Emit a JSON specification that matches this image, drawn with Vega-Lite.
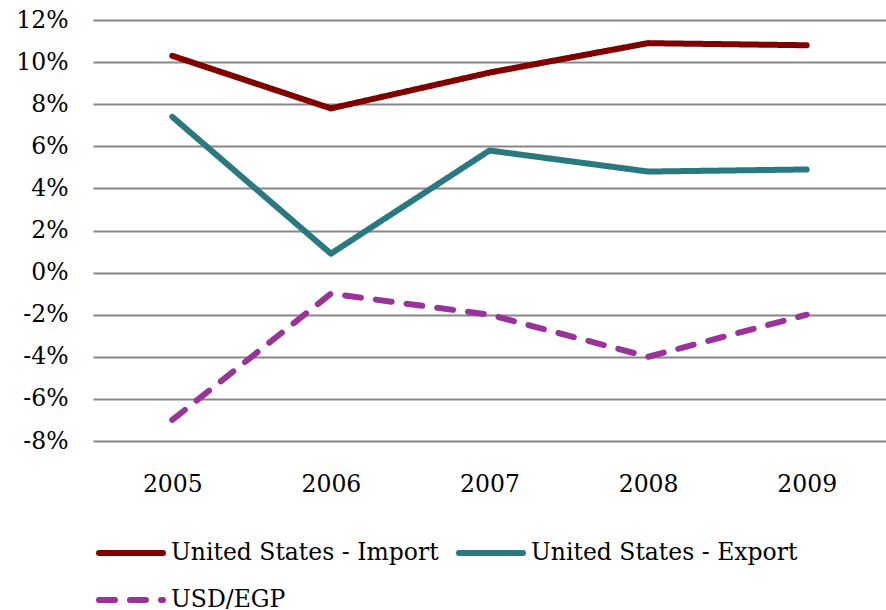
{
  "$schema": "https://vega.github.io/schema/vega-lite/v6.json",
  "width": 793,
  "height": 421,
  "padding": {"left": 93, "top": 20, "right": 0, "bottom": 169},
  "autosize": {"type": "none"},
  "background": "white",
  "config": {
    "view": {"stroke": null},
    "font": "DejaVu Serif",
    "axis": {"labelFont": "DejaVu Serif", "labelFontSize": 23.5, "labelColor": "#000000"},
    "legend": {"labelFont": "DejaVu Serif", "labelFontSize": 23.5, "labelColor": "#000000"}
  },
  "data": {
    "values": [
      {"year": "2005", "series": "United States - Import", "value": 10.3},
      {"year": "2006", "series": "United States - Import", "value": 7.8},
      {"year": "2007", "series": "United States - Import", "value": 9.5},
      {"year": "2008", "series": "United States - Import", "value": 10.9},
      {"year": "2009", "series": "United States - Import", "value": 10.8},
      {"year": "2005", "series": "United States - Export", "value": 7.4},
      {"year": "2006", "series": "United States - Export", "value": 0.9},
      {"year": "2007", "series": "United States - Export", "value": 5.8},
      {"year": "2008", "series": "United States - Export", "value": 4.8},
      {"year": "2009", "series": "United States - Export", "value": 4.9},
      {"year": "2005", "series": "USD/EGP", "value": -7.0},
      {"year": "2006", "series": "USD/EGP", "value": -1.0},
      {"year": "2007", "series": "USD/EGP", "value": -2.0},
      {"year": "2008", "series": "USD/EGP", "value": -4.0},
      {"year": "2009", "series": "USD/EGP", "value": -2.0}
    ]
  },
  "mark": {"type": "line", "strokeWidth": 6, "strokeCap": "round", "strokeJoin": "round"},
  "encoding": {
    "x": {
      "field": "year",
      "type": "ordinal",
      "scale": {"type": "point", "padding": 0.5},
      "axis": {"title": null, "labelAngle": 0, "ticks": false, "domain": false, "grid": false, "labelPadding": 31}
    },
    "y": {
      "field": "value",
      "type": "quantitative",
      "scale": {"domain": [-8, 12], "nice": false},
      "axis": {
        "title": null,
        "values": [-8, -6, -4, -2, 0, 2, 4, 6, 8, 10, 12],
        "labelExpr": "datum.value + '%'",
        "ticks": false,
        "domain": false,
        "grid": true,
        "gridColor": "#878787",
        "gridWidth": 2,
        "labelPadding": 25
      }
    },
    "color": {
      "field": "series",
      "type": "nominal",
      "sort": ["United States - Import", "USD/EGP", "United States - Export"],
      "scale": {
        "domain": ["United States - Import", "USD/EGP", "United States - Export"],
        "range": ["#800000", "#993399", "#2A7980"]
      },
      "legend": {
        "title": null,
        "orient": "none",
        "legendX": 3,
        "legendY": 498,
        "columns": 2,
        "columnPadding": 8,
        "rowPadding": -17,
        "padding": 0,
        "symbolType": "stroke",
        "symbolSize": 4096,
        "symbolStrokeWidth": 6,
        "labelOffset": 5,
        "labelLimit": 400,
        "encode": {
          "symbols": {
            "update": {
              "strokeCap": {"value": "round"},
              "strokeDash": {"signal": "datum.value === 'USD/EGP' ? [9, 11] : [1, 0]"}
            }
          }
        }
      }
    },
    "strokeDash": {
      "field": "series",
      "type": "nominal",
      "scale": {
        "domain": ["United States - Import", "USD/EGP", "United States - Export"],
        "range": [[1, 0], [16, 15], [1, 0]]
      },
      "legend": null
    }
  }
}
